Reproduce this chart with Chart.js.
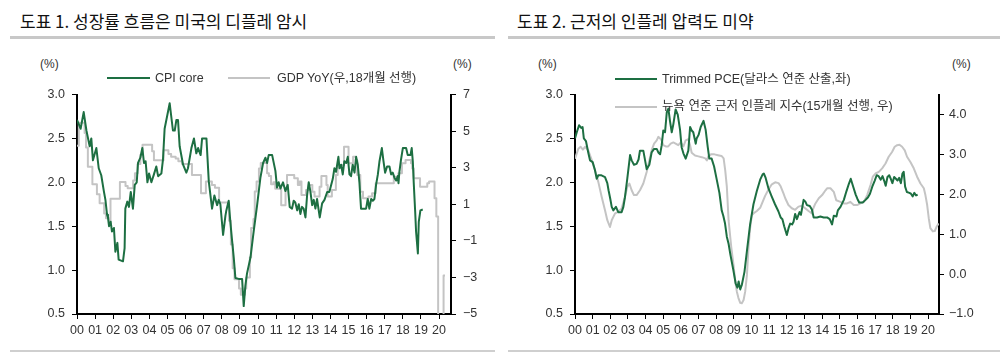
<!DOCTYPE html>
<html>
<head>
<meta charset="utf-8">
<script src="https://cdn.jsdelivr.net/npm/chart.js@4.4.1/dist/chart.umd.min.js"></script>
<style>
    body { margin: 0; background: #fff; width: 1000px; height: 354px; overflow: hidden; position: relative;
           font-family: "Liberation Sans", "Noto Sans CJK KR", sans-serif; color: #222; }
    .title { position: absolute; top: 8px; font-size: 17px; font-family: "Noto Sans CJK KR", sans-serif; color: #111; white-space: nowrap; }
    .bar { position: absolute; height: 3px; background: #c8c8c8; }
    .foot { position: absolute; top: 350px; height: 2px; background: #cfcfcf; }
    .unit { position: absolute; top: 57px; font-size: 12px; color: #333; }
    .lg-line { position: absolute; height: 0; border-top: 2px solid; }
    .lg-text { position: absolute; font-size: 12.5px; line-height: 16px; color: #333; white-space: nowrap; }
    .box { position: absolute; top: 80px; width: 500px; height: 272px; }
    .over { z-index: 2; }
</style>
</head>
<body>

<div class="title" style="left:20px">도표 1. 성장률 흐름은 미국의 디플레 암시</div>
<div class="bar" style="left:10px; top:36px; width:485px"></div>
<div class="title" style="left:517px">도표 2. 근저의 인플레 압력도 미약</div>
<div class="bar" style="left:508px; top:36px; width:492px"></div>

<div class="box" style="left:0"><canvas id="chart1" width="500" height="272"></canvas></div>
<div class="box" style="left:500px"><canvas id="chart2" width="500" height="272"></canvas></div>

<div class="unit" style="left:40px">(%)</div>
<div class="unit" style="left:453px">(%)</div>
<div class="lg-line over" style="left:107px; top:77px; width:43px; border-color:#1d6f42"></div>
<div class="lg-text over" style="left:155px; top:70px">CPI core</div>
<div class="lg-line over" style="left:228px; top:77px; width:42px; border-color:#c4c4c4"></div>
<div class="lg-text over" style="left:277px; top:70px">GDP YoY(우,18개월 선행)</div>

<div class="unit" style="left:538px">(%)</div>
<div class="unit" style="left:952px">(%)</div>
<div class="lg-line over" style="left:615px; top:78px; width:42px; border-color:#1d6f42"></div>
<div class="lg-text over" style="left:662px; top:71px">Trimmed PCE(달라스 연준 산출,좌)</div>
<div class="lg-line over" style="left:615px; top:106px; width:42px; border-color:#c4c4c4"></div>
<div class="lg-text over" style="left:662px; top:98px">뉴욕 연준 근저 인플레 지수(15개월 선행, 우)</div>

<div class="foot" style="left:10px; width:485px"></div>
<div class="foot" style="left:508px; width:492px"></div>

<script>
const GREEN = "#1d6f42";
const GRAY = "#c4c4c4";
const FONT = "'Liberation Sans', 'Noto Sans CJK KR', sans-serif";

// x axis: years, labels
const yearTicks = [2000, 2001, 2002, 2003, 2004, 2005, 2006, 2007, 2008, 2009, 2010,
    2011, 2012, 2013, 2014, 2015, 2016, 2017, 2018, 2019, 2020];
const yearLabels = ["00", "01", "02", "03", "04", "05", "06", "07", "08", "09", "10",
    "11", "12", "13", "14", "15", "16", "17", "18", "19", "20"];
const leftTicks = [0.5, 1.0, 1.5, 2.0, 2.5, 3.0];
const gdpTicks = [-5, -3, -1, 1, 3, 5, 7];
const uigTicks = [-1, 0, 1, 2, 3, 4];

// 도표 1: CPI core (좌)
const cpiYears = [2000.0, 2000.2, 2000.37, 2000.52, 2000.61, 2000.7, 2000.79, 2000.88, 2001.07, 2001.2,
    2001.34, 2001.49, 2001.57, 2001.66, 2001.71, 2001.77, 2001.86, 2001.93, 2002.04, 2002.12,
    2002.23, 2002.3, 2002.54, 2002.63, 2002.67, 2002.78, 2002.87, 2002.97, 2003.09, 2003.19,
    2003.3, 2003.37, 2003.5, 2003.61, 2003.7, 2003.79, 2003.89, 2003.98, 2004.11, 2004.25,
    2004.38, 2004.48, 2004.66, 2004.75, 2004.84, 2005.12, 2005.3, 2005.4, 2005.49, 2005.58,
    2005.67, 2005.86, 2006.04, 2006.13, 2006.32, 2006.46, 2006.59, 2006.69, 2006.83, 2006.91,
    2007.15, 2007.28, 2007.46, 2007.59, 2007.74, 2007.83, 2007.92, 2008.07, 2008.2, 2008.25,
    2008.38, 2008.47, 2008.57, 2008.66, 2008.75, 2008.93, 2009.12, 2009.21, 2009.3, 2009.39,
    2009.58, 2009.76, 2009.95, 2010.13, 2010.28, 2010.41, 2010.5, 2010.59, 2010.78, 2010.96,
    2011.05, 2011.14, 2011.24, 2011.38, 2011.51, 2011.64, 2011.75, 2011.88, 2011.97, 2012.06,
    2012.16, 2012.25, 2012.34, 2012.43, 2012.52, 2012.62, 2012.71, 2012.8, 2012.89, 2012.99,
    2013.08, 2013.17, 2013.26, 2013.41, 2013.54, 2013.67, 2013.82, 2013.94, 2014.04, 2014.13,
    2014.22, 2014.31, 2014.44, 2014.5, 2014.59, 2014.68, 2014.77, 2014.87, 2014.96, 2015.05,
    2015.14, 2015.23, 2015.33, 2015.42, 2015.51, 2015.6, 2015.69, 2015.97, 2016.06, 2016.15,
    2016.25, 2016.34, 2016.43, 2016.52, 2016.62, 2016.71, 2016.84, 2016.93, 2017.02, 2017.13,
    2017.26, 2017.35, 2017.44, 2017.54, 2017.63, 2017.72, 2017.76, 2017.81, 2017.9, 2018.0,
    2018.18, 2018.27, 2018.42, 2018.49, 2018.55, 2018.6, 2018.68, 2018.73, 2018.83, 2018.88,
    2018.97, 2019.1];
const cpiValues = [2.71, 2.61, 2.80, 2.59, 2.50, 2.41, 2.50, 2.25, 2.39, 2.16,
    2.08, 1.89, 1.80, 1.63, 1.60, 1.50, 1.55, 1.44, 1.48, 1.21,
    1.31, 1.12, 1.10, 1.25, 1.70, 1.78, 1.72, 1.89, 1.70, 1.97,
    2.00, 2.22, 2.28, 2.39, 2.22, 2.24, 2.00, 2.10, 2.00, 2.09,
    2.18, 2.07, 2.10, 2.26, 2.61, 2.90, 2.59, 2.59, 2.71, 2.71,
    2.41, 2.20, 2.11, 2.16, 2.39, 2.50, 2.33, 2.39, 2.31, 2.50,
    2.50, 2.01, 1.70, 1.85, 1.74, 1.80, 1.75, 1.40, 1.62, 1.68,
    1.79, 1.55, 1.33, 1.14, 0.91, 0.90, 0.90, 0.59, 0.82, 0.96,
    1.14, 1.44, 1.74, 2.05, 2.22, 2.28, 2.22, 2.31, 2.31, 2.13,
    1.94, 2.00, 1.93, 2.00, 1.90, 1.97, 1.72, 1.70, 1.79, 1.77,
    1.68, 1.75, 1.64, 1.72, 1.70, 1.60, 1.85, 2.00, 1.90, 1.74,
    1.80, 1.70, 1.81, 1.60, 1.76, 1.80, 1.89, 1.89, 1.97, 2.04,
    2.16, 2.12, 2.29, 2.16, 2.20, 2.09, 2.24, 2.22, 2.29, 2.09,
    2.07, 2.20, 2.11, 2.29, 2.20, 2.00, 1.70, 1.70, 1.81, 1.70,
    1.81, 1.79, 1.81, 1.97, 2.09, 2.24, 2.39, 2.24, 2.11, 2.18,
    2.18, 2.09, 2.11, 2.05, 2.02, 2.07, 1.99, 2.12, 2.26, 2.39,
    2.39, 2.31, 2.31, 2.39, 2.24, 2.00, 1.67, 1.44, 1.19, 1.55,
    1.68, 1.69];

// 도표 1: GDP YoY (우, 18개월 선행) - 분기 계단
const gdpYears = [2000.0, 2000.1, 2000.42, 2000.5, 2000.6, 2000.85, 2001.1, 2001.25, 2001.5, 2001.6,
    2001.78, 2001.85, 2002.37, 2002.68, 2002.8, 2003.1, 2003.2, 2003.35, 2003.5, 2003.62,
    2004.15, 2004.25, 2004.78, 2005.05, 2005.2, 2005.45, 2005.6, 2005.8, 2006.35, 2006.85,
    2007.12, 2007.45, 2007.62, 2007.85, 2008.4, 2008.5, 2008.6, 2008.7, 2008.95, 2009.05,
    2009.28, 2009.35, 2009.55, 2009.62, 2009.75, 2009.82, 2009.92, 2010.05, 2010.15, 2010.5,
    2010.6, 2010.72, 2010.85, 2010.95, 2011.28, 2011.52, 2011.6, 2012.0, 2012.2, 2012.3,
    2012.4, 2012.65, 2012.8, 2013.0, 2013.12, 2013.4, 2013.5, 2013.78, 2013.85, 2014.08,
    2014.3, 2014.4, 2014.75, 2015.0, 2015.25, 2015.4, 2015.48, 2015.65, 2015.8, 2016.1,
    2016.3, 2016.5, 2017.5, 2017.75, 2017.95, 2018.15, 2018.45, 2018.52, 2018.6, 2018.95,
    2019.35, 2019.45, 2019.75, 2019.85, 2019.95, 2020.25, 2020.33];
const gdpValues = [4.2, 5.45, 4.9, 4.1, 3.05, 2.1, 1.55, 1.05, 0.5, 0.24,
    -0.04, 1.3, 2.22, 2.0, 1.88, 2.3, 2.7, 3.2, 3.7, 4.25,
    3.9, 3.4, 3.95, 3.75, 3.6, 3.5, 3.35, 3.2, 2.6, 1.6,
    2.25, 2.05, 1.9, 1.1, 0.1, -1.2, -2.5, -3.1, -3.6, -3.95,
    -3.6, -3.0, -1.9, -0.3, 0.2, 1.7, 2.25, 2.95, 3.25, 2.7,
    2.55, 2.1, 2.2, 1.85, 0.95, 1.87, 2.6, 2.42, 2.05, 2.24,
    1.5, 1.78, 2.05, 1.69, 1.42, 1.96, 2.55, 2.05, 1.42, 1.78,
    2.6, 3.15, 4.15, 3.24, 3.6, 3.4, 2.6, 1.69, 1.33, 1.42,
    1.6, 2.15, 2.5, 2.7, 3.24, 3.42, 3.24, 2.96, 2.42, 1.96,
    2.15, 2.25, 1.33, 0.33, -9.0, -2.9, -2.9];

// 도표 2: Trimmed PCE (좌)
const pceYears = [2000.0, 2000.1, 2000.23, 2000.35, 2000.43, 2000.5, 2000.62, 2000.75, 2000.85, 2001.0,
    2001.13, 2001.23, 2001.32, 2001.5, 2001.7, 2001.83, 2001.9, 2002.0, 2002.08, 2002.17,
    2002.32, 2002.45, 2002.64, 2002.74, 2002.83, 2002.96, 2003.12, 2003.21, 2003.34, 2003.49,
    2003.6, 2003.68, 2003.87, 2003.97, 2004.06, 2004.21, 2004.34, 2004.48, 2004.63, 2004.72,
    2004.82, 2004.91, 2005.0, 2005.1, 2005.2, 2005.29, 2005.38, 2005.48, 2005.57, 2005.7,
    2005.82, 2005.95, 2006.04, 2006.14, 2006.27, 2006.42, 2006.52, 2006.61, 2006.7, 2006.84,
    2006.89, 2007.0, 2007.12, 2007.28, 2007.4, 2007.52, 2007.61, 2007.74, 2007.88, 2008.03,
    2008.18, 2008.31, 2008.4, 2008.5, 2008.6, 2008.7, 2008.8, 2008.97, 2009.1, 2009.2,
    2009.27, 2009.36, 2009.45, 2009.6, 2009.74, 2009.92, 2010.11, 2010.3, 2010.49, 2010.63,
    2010.7, 2010.8, 2010.96, 2011.14, 2011.33, 2011.52, 2011.65, 2011.75, 2011.85, 2012.0,
    2012.1, 2012.19, 2012.3, 2012.38, 2012.47, 2012.57, 2012.72, 2012.8, 2012.95, 2013.05,
    2013.14, 2013.3, 2013.42, 2013.52, 2013.71, 2013.9, 2014.09, 2014.28, 2014.43, 2014.56,
    2014.66, 2014.81, 2014.89, 2015.04, 2015.23, 2015.38, 2015.51, 2015.62, 2015.76, 2015.9,
    2016.0, 2016.1, 2016.3, 2016.46, 2016.6, 2016.71, 2016.84, 2016.98, 2017.09, 2017.2,
    2017.32, 2017.42, 2017.51, 2017.6, 2017.7, 2017.8, 2017.89, 2017.98, 2018.08, 2018.18,
    2018.27, 2018.36, 2018.46, 2018.55, 2018.62, 2018.7, 2018.8, 2018.94, 2019.03, 2019.13,
    2019.22, 2019.32, 2019.41];
const pceValues = [2.50, 2.57, 2.65, 2.62, 2.63, 2.50, 2.47, 2.34, 2.25, 2.23,
    2.14, 2.04, 2.08, 2.08, 2.06, 1.99, 1.91, 1.81, 1.72, 1.68,
    1.72, 1.66, 1.66, 1.72, 1.83, 2.04, 2.31, 2.25, 2.20, 2.21,
    2.26, 2.36, 2.36, 2.25, 2.15, 2.20, 2.34, 2.38, 2.38, 2.34,
    2.32, 2.42, 2.59, 2.57, 2.80, 2.84, 2.70, 2.57, 2.66, 2.83,
    2.77, 2.60, 2.40, 2.33, 2.27, 2.36, 2.63, 2.59, 2.57, 2.44,
    2.50, 2.54, 2.63, 2.70, 2.60, 2.40, 2.27, 2.27, 2.18, 2.03,
    1.88, 1.68, 1.62, 1.53, 1.38, 1.30, 1.18, 1.00, 0.85, 0.80,
    0.87, 0.78, 0.83, 0.98, 1.22, 1.52, 1.75, 1.90, 2.03, 2.09,
    2.10, 2.05, 1.93, 1.84, 1.75, 1.67, 1.60, 1.58, 1.50, 1.40,
    1.48, 1.53, 1.52, 1.55, 1.64, 1.58, 1.66, 1.63, 1.80, 1.78,
    1.74, 1.73, 1.69, 1.60, 1.60, 1.61, 1.60, 1.60, 1.58, 1.52,
    1.62, 1.61, 1.68, 1.72, 1.80, 1.90, 1.98, 2.04, 1.95, 1.86,
    1.81, 1.77, 1.77, 1.80, 1.83, 1.87, 1.95, 2.02, 2.08, 2.07,
    2.03, 2.07, 2.02, 1.96, 2.06, 2.08, 2.04, 1.99, 2.06, 2.04,
    2.02, 2.05, 1.99, 2.10, 2.12, 1.95, 1.89, 1.88, 1.87, 1.84,
    1.88, 1.85, 1.86];

// 도표 2: 뉴욕 연준 근저 인플레 지수 (우, 15개월 선행)
const uigYears = [2000.0, 2000.19, 2000.32, 2000.45, 2000.57, 2000.75, 2000.94, 2001.13, 2001.32, 2001.51,
    2001.7, 2001.83, 2001.98, 2002.08, 2002.27, 2002.45, 2002.64, 2002.83, 2002.96, 2003.08,
    2003.21, 2003.34, 2003.49, 2003.68, 2003.87, 2004.06, 2004.21, 2004.34, 2004.48, 2004.63,
    2004.72, 2004.82, 2004.91, 2005.0, 2005.14, 2005.28, 2005.42, 2005.57, 2005.7, 2005.85,
    2005.99, 2006.14, 2006.27, 2006.42, 2006.52, 2006.61, 2006.8, 2006.99, 2007.18, 2007.38,
    2007.47, 2007.55, 2007.7, 2007.9, 2008.1, 2008.3, 2008.42, 2008.51, 2008.6, 2008.7,
    2008.85, 2008.98, 2009.08, 2009.17, 2009.26, 2009.36, 2009.45, 2009.55, 2009.64, 2009.74,
    2009.83, 2009.92, 2010.02, 2010.11, 2010.3, 2010.49, 2010.6, 2010.77, 2010.96, 2011.15,
    2011.34, 2011.53, 2011.65, 2011.81, 2011.91, 2012.09, 2012.28, 2012.47, 2012.66, 2012.85,
    2013.04, 2013.23, 2013.42, 2013.5, 2013.62, 2013.81, 2014.0, 2014.19, 2014.28, 2014.47,
    2014.66, 2014.8, 2015.04, 2015.22, 2015.41, 2015.6, 2015.79, 2015.98, 2016.17, 2016.36,
    2016.55, 2016.74, 2016.87, 2017.02, 2017.21, 2017.4, 2017.59, 2017.77, 2017.96, 2018.11,
    2018.25, 2018.38, 2018.53, 2018.68, 2018.81, 2019.0, 2019.19, 2019.38, 2019.57, 2019.76,
    2019.85, 2019.95, 2020.04, 2020.13, 2020.27, 2020.38, 2020.5, 2020.6];
const uigValues = [2.89, 3.14, 3.19, 3.12, 3.19, 3.10, 2.87, 2.60, 2.31, 1.94,
    1.60, 1.35, 1.18, 1.35, 1.52, 1.56, 1.64, 1.94, 2.18, 2.27,
    2.10, 1.98, 1.98, 2.10, 2.27, 2.56, 2.85, 3.10, 3.27, 3.35,
    3.44, 3.40, 3.35, 3.23, 3.20, 3.20, 3.27, 3.30, 3.27, 3.23,
    3.30, 3.20, 3.35, 3.38, 3.23, 3.04, 2.97, 2.95, 2.93, 2.90,
    2.85, 2.95, 3.00, 3.00, 2.98, 2.96, 2.90, 2.60, 2.20, 1.35,
    0.68, 0.23, -0.19, -0.44, -0.60, -0.72, -0.73, -0.65, -0.44, -0.02,
    0.68, 1.15, 1.48, 1.52, 1.58, 1.66, 1.78, 1.96, 2.12, 2.25,
    2.30, 2.28, 2.20, 2.02, 1.90, 1.73, 1.65, 1.61, 1.69, 1.71,
    1.65, 1.58, 1.52, 1.65, 1.77, 1.90, 1.98, 2.10, 2.15, 2.15,
    2.06, 1.85, 1.81, 1.77, 1.77, 1.81, 1.73, 1.73, 1.77, 1.81,
    1.98, 2.23, 2.44, 2.52, 2.56, 2.65, 2.77, 2.94, 3.06, 3.19,
    3.23, 3.24, 3.19, 3.10, 2.94, 2.81, 2.65, 2.44, 2.27, 2.15,
    1.98, 1.73, 1.40, 1.15, 1.07, 1.08, 1.20, 1.27];

function toPoints(xs, ys) {
    return xs.map((x, i) => ({ x: x, y: ys[i] }));
}

function minus(v) {
    return String(v).replace("-", "\u2212");
}

function yAxis(pos, min, max, ticks, width, pad, fmt) {
    return {
        type: "linear",
        position: pos,
        min: min,
        max: max,
        afterBuildTicks: s => { s.ticks = ticks.map(v => ({ value: v })); },
        afterFit: s => { s.width = width; },
        grid: { drawOnChartArea: false, drawTicks: true, tickLength: 5, color: "#000", lineWidth: 1 },
        border: { display: true, color: "#000", width: 2 },
        ticks: { color: "#333", padding: pad, font: { size: 12.5, family: FONT }, callback: fmt }
    };
}

function xAxis(max) {
    return {
        type: "linear",
        min: 2000,
        max: max,
        afterBuildTicks: s => { s.ticks = yearTicks.map(v => ({ value: v })); },
        afterFit: s => { s.height = 38; },
        grid: { drawOnChartArea: false, drawTicks: true, tickLength: 5, color: "#000", lineWidth: 1 },
        border: { display: true, color: "#000", width: 2 },
        ticks: {
            autoSkip: false, maxRotation: 0, minRotation: 0, padding: 4, color: "#333",
            font: { size: 12.5, family: FONT },
            callback: (v, i) => yearLabels[i]
        }
    };
}

const common = {
    responsive: false,
    animation: false,
    layout: { padding: { top: 14, left: 0, right: 0, bottom: 0 } },
    plugins: { legend: { display: false }, tooltip: { enabled: false } },
    elements: { point: { radius: 0 }, line: { tension: 0, borderJoinStyle: "round" } }
};

new Chart(document.getElementById("chart1"), {
    type: "line",
    data: {
        datasets: [
            { label: "GDP YoY(우,18개월 선행)", data: toPoints(gdpYears, gdpValues), yAxisID: "y2",
              borderColor: GRAY, borderWidth: 2, stepped: true, order: 2 },
            { label: "CPI core", data: toPoints(cpiYears, cpiValues), yAxisID: "y",
              borderColor: GREEN, borderWidth: 2, order: 1 }
        ]
    },
    options: Object.assign({}, common, {
        scales: {
            x: xAxis(2020.66),
            y: yAxis("left", 0.5, 3.0, leftTicks, 77, 7, v => v.toFixed(1)),
            y2: yAxis("right", -5, 7, gdpTicks, 49, 7, v => minus(v))
        }
    })
});

new Chart(document.getElementById("chart2"), {
    type: "line",
    data: {
        datasets: [
            { label: "뉴욕 연준 근저 인플레 지수(15개월 선행, 우)", data: toPoints(uigYears, uigValues), yAxisID: "y2",
              borderColor: GRAY, borderWidth: 2, order: 2 },
            { label: "Trimmed PCE(달라스 연준 산출,좌)", data: toPoints(pceYears, pceValues), yAxisID: "y",
              borderColor: GREEN, borderWidth: 2, order: 1 }
        ]
    },
    options: Object.assign({}, common, {
        scales: {
            x: xAxis(2020.62),
            y: yAxis("left", 0.5, 3.0, leftTicks, 75, 7, v => v.toFixed(1)),
            y2: yAxis("right", -1, 4.5, uigTicks, 61, 5, v => minus(v.toFixed(1)))
        }
    })
});
</script>
</body>
</html>
